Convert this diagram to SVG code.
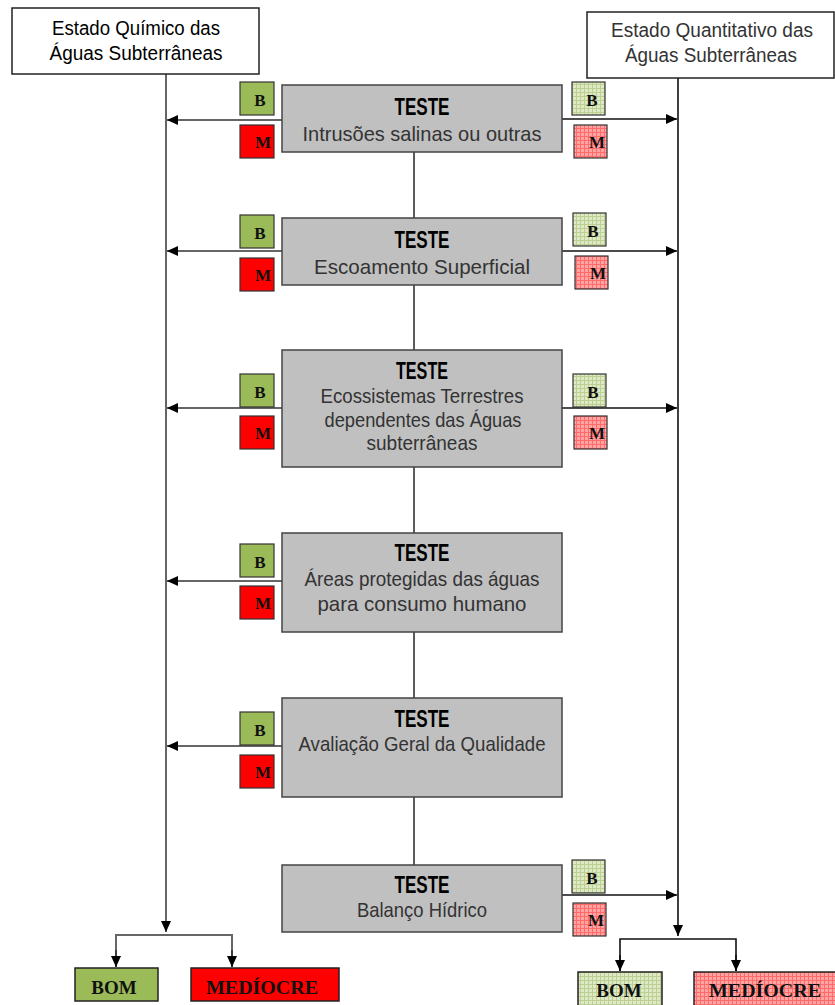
<svg xmlns="http://www.w3.org/2000/svg" width="835" height="1005" viewBox="0 0 835 1005">
  <style>
    .hdr { fill: #fff; stroke: #222; stroke-width: 1.5; }
    .test { fill: #c0c0c0; stroke: #444; stroke-width: 1.5; }
    .tt { font-family: "Liberation Sans", Arial, sans-serif; text-anchor: middle; }
    .ttl { font-size: 23px; font-weight: bold; fill: #000; }
    .sub { font-size: 21px; fill: #333; }
    .hl { font-size: 20px; fill: #000; }
    .hr { font-size: 20px; fill: #333; }
    .lt { font-family: "Liberation Serif", "Times New Roman", serif; font-weight: bold; font-size: 17px; fill: #111; text-anchor: middle; }
    .res { font-family: "Liberation Serif", "Times New Roman", serif; font-weight: bold; font-size: 19px; fill: #111; text-anchor: middle; }
    .bg { fill: #9bbb59; stroke: #333; stroke-width: 1.2; }
    .mr { fill: #ff0000; stroke: #333; stroke-width: 1.2; }
    .bgp { fill: url(#gridGreen); stroke: #333; stroke-width: 1.2; }
    .mrp { fill: url(#gridRed); stroke: #333; stroke-width: 1.2; }
    .ln { fill: none; stroke: #333; stroke-width: 1.6; }
    .lg { fill: none; stroke: #666; stroke-width: 2; }
    .lk { fill: none; stroke: #111; stroke-width: 1.6; }
  </style>
  <defs>
    <marker id="arr" markerUnits="userSpaceOnUse" markerWidth="12" markerHeight="12" refX="11" refY="6" orient="auto">
      <path d="M0,1 L11,6 L0,11 z" fill="#000"/>
    </marker>
    <pattern id="gridGreen" patternUnits="userSpaceOnUse" width="4" height="4">
      <rect width="4" height="4" fill="#dfe9c6"/>
      <path d="M0,0.5 H4 M0.5,0 V4" stroke="#bcd094" stroke-width="1"/>
    </pattern>
    <pattern id="gridRed" patternUnits="userSpaceOnUse" width="4" height="4">
      <rect width="4" height="4" fill="#ffa3a3"/>
      <path d="M0,0.5 H4 M0.5,0 V4" stroke="#ff6a6a" stroke-width="1"/>
    </pattern>
  </defs>

  <rect width="835" height="1005" fill="#fff"/>

  <!-- connectors -->
  <g id="connectors">
    <!-- central chain between tests -->
    <path class="ln" d="M414,152 V865" stroke-width="2"/>
    <!-- chemical status trunk -->
    <path class="lg" d="M166,74 V932" marker-end="url(#arr)"/>
    <!-- quantitative status trunk -->
    <path class="lk" d="M678,78 V936" marker-end="url(#arr)"/>
    <!-- tests to chemical status -->
    <path class="ln" d="M282,120 H167" marker-end="url(#arr)"/>
    <path class="ln" d="M282,251 H167" marker-end="url(#arr)"/>
    <path class="ln" d="M282,408 H167" marker-end="url(#arr)"/>
    <path class="ln" d="M282,581 H167" marker-end="url(#arr)"/>
    <path class="ln" d="M282,746 H167" marker-end="url(#arr)"/>
    <!-- tests to quantitative status -->
    <path class="lk" d="M562,119 H677" marker-end="url(#arr)"/>
    <path class="lk" d="M562,251 H677" marker-end="url(#arr)"/>
    <path class="lk" d="M562,408 H677" marker-end="url(#arr)"/>
    <path class="lk" d="M562,895 H677" marker-end="url(#arr)"/>
    <!-- chemical split -->
    <path class="lg" d="M116,967 V935 H232 V967" stroke-width="1.6"/>
    <path class="ln" d="M116,950 V967" marker-end="url(#arr)"/>
    <path class="ln" d="M232,950 V967" marker-end="url(#arr)"/>
    <!-- quantitative split -->
    <path class="lk" d="M620,971 V939 H736 V971"/>
    <path class="lk" d="M620,955 V971" marker-end="url(#arr)"/>
    <path class="lk" d="M736,955 V971" marker-end="url(#arr)"/>
  </g>

  <!-- status headers -->
  <g id="hdr-quimico">
    <rect class="hdr" x="12" y="8" width="247" height="66"/>
    <text class="tt hl" x="136" y="35" textLength="168" lengthAdjust="spacingAndGlyphs">Estado Químico das</text>
    <text class="tt hl" x="136" y="60" textLength="173" lengthAdjust="spacingAndGlyphs">Águas Subterrâneas</text>
  </g>
  <g id="hdr-quantitativo">
    <rect class="hdr" x="587" y="12" width="247" height="66"/>
    <text class="tt hr" x="712" y="37" textLength="202" lengthAdjust="spacingAndGlyphs">Estado Quantitativo das</text>
    <text class="tt hr" x="711" y="62" textLength="172" lengthAdjust="spacingAndGlyphs">Águas Subterrâneas</text>
  </g>

  <!-- tests -->
  <g id="teste-intrusoes">
    <rect class="test" x="282" y="85" width="280" height="67"/>
    <text class="tt ttl" x="422" y="115" textLength="55" lengthAdjust="spacingAndGlyphs">TESTE</text>
    <text class="tt sub" x="422" y="141" textLength="239" lengthAdjust="spacingAndGlyphs">Intrusões salinas ou outras</text>
  </g>
  <g id="teste-escoamento">
    <rect class="test" x="282" y="218" width="280" height="67"/>
    <text class="tt ttl" x="422" y="248" textLength="55" lengthAdjust="spacingAndGlyphs">TESTE</text>
    <text class="tt sub" x="422" y="274" textLength="216" lengthAdjust="spacingAndGlyphs">Escoamento Superficial</text>
  </g>
  <g id="teste-ecossistemas">
    <rect class="test" x="282" y="350" width="280" height="117"/>
    <text class="tt ttl" x="422" y="379" textLength="52" lengthAdjust="spacingAndGlyphs">TESTE</text>
    <text class="tt sub" x="422" y="403" textLength="203" lengthAdjust="spacingAndGlyphs">Ecossistemas Terrestres</text>
    <text class="tt sub" x="423" y="427" textLength="197" lengthAdjust="spacingAndGlyphs">dependentes das Águas</text>
    <text class="tt sub" x="422" y="450" textLength="111" lengthAdjust="spacingAndGlyphs">subterrâneas</text>
  </g>
  <g id="teste-areas">
    <rect class="test" x="282" y="533" width="280" height="99"/>
    <text class="tt ttl" x="422" y="561" textLength="55" lengthAdjust="spacingAndGlyphs">TESTE</text>
    <text class="tt sub" x="422" y="586" textLength="235" lengthAdjust="spacingAndGlyphs">Áreas protegidas das águas</text>
    <text class="tt sub" x="422" y="611" textLength="209" lengthAdjust="spacingAndGlyphs">para consumo humano</text>
  </g>
  <g id="teste-avaliacao">
    <rect class="test" x="282" y="698" width="280" height="99"/>
    <text class="tt ttl" x="422" y="727" textLength="55" lengthAdjust="spacingAndGlyphs">TESTE</text>
    <text class="tt sub" x="422" y="751" textLength="247" lengthAdjust="spacingAndGlyphs">Avaliação Geral da Qualidade</text>
  </g>
  <g id="teste-balanco">
    <rect class="test" x="282" y="865" width="280" height="67"/>
    <text class="tt ttl" x="422" y="893" textLength="55" lengthAdjust="spacingAndGlyphs">TESTE</text>
    <text class="tt sub" x="422" y="917" textLength="130" lengthAdjust="spacingAndGlyphs">Balanço Hídrico</text>
  </g>

  <!-- chemical B/M flags -->
  <g id="flags-quimico">
    <rect class="bg" x="240" y="82" width="34" height="33"/><text class="lt" x="260" y="106">B</text>
    <rect class="mr" x="240" y="125" width="34" height="33"/><text class="lt" x="263" y="148">M</text>
    <rect class="bg" x="240" y="215" width="34" height="33"/><text class="lt" x="260" y="239">B</text>
    <rect class="mr" x="240" y="258" width="34" height="33"/><text class="lt" x="263" y="281">M</text>
    <rect class="bg" x="240" y="374" width="34" height="33"/><text class="lt" x="260" y="398">B</text>
    <rect class="mr" x="240" y="416" width="34" height="33"/><text class="lt" x="263" y="439">M</text>
    <rect class="bg" x="240" y="544" width="34" height="33"/><text class="lt" x="260" y="568">B</text>
    <rect class="mr" x="240" y="586" width="34" height="33"/><text class="lt" x="263" y="609">M</text>
    <rect class="bg" x="240" y="712" width="34" height="33"/><text class="lt" x="260" y="736">B</text>
    <rect class="mr" x="240" y="755" width="34" height="33"/><text class="lt" x="263" y="778">M</text>
  </g>

  <!-- quantitative B/M flags -->
  <g id="flags-quantitativo">
    <rect class="bgp" x="572" y="82" width="33" height="33"/><text class="lt" x="592" y="106">B</text>
    <rect class="mrp" x="574" y="125" width="33" height="33"/><text class="lt" x="597" y="148">M</text>
    <rect class="bgp" x="573" y="213" width="33" height="33"/><text class="lt" x="593" y="237">B</text>
    <rect class="mrp" x="575" y="256" width="33" height="33"/><text class="lt" x="598" y="279">M</text>
    <rect class="bgp" x="573" y="374" width="33" height="33"/><text class="lt" x="593" y="398">B</text>
    <rect class="mrp" x="574" y="416" width="33" height="33"/><text class="lt" x="597" y="439">M</text>
    <rect class="bgp" x="572" y="860" width="33" height="33"/><text class="lt" x="592" y="884">B</text>
    <rect class="mrp" x="573" y="903" width="33" height="33"/><text class="lt" x="596" y="926">M</text>
  </g>

  <!-- results -->
  <g id="res-quimico-bom">
    <rect x="75" y="968" width="83" height="33" fill="#9bbb59" stroke="#222" stroke-width="1.5"/>
    <text class="res" x="114" y="994">BOM</text>
  </g>
  <g id="res-quimico-mediocre">
    <rect x="191" y="968" width="148" height="33" fill="#ff0000" stroke="#222" stroke-width="1.5"/>
    <text class="res" x="262" y="994" textLength="112" lengthAdjust="spacingAndGlyphs">MEDÍOCRE</text>
  </g>
  <g id="res-quantitativo-bom">
    <rect x="578" y="972" width="84" height="34" fill="url(#gridGreen)" stroke="#222" stroke-width="1.5"/>
    <text class="res" x="619" y="997">BOM</text>
  </g>
  <g id="res-quantitativo-mediocre">
    <rect x="694" y="972" width="142" height="34" fill="url(#gridRed)" stroke="#222" stroke-width="1.5"/>
    <text class="res" x="765" y="997" textLength="112" lengthAdjust="spacingAndGlyphs">MEDÍOCRE</text>
  </g>
</svg>
